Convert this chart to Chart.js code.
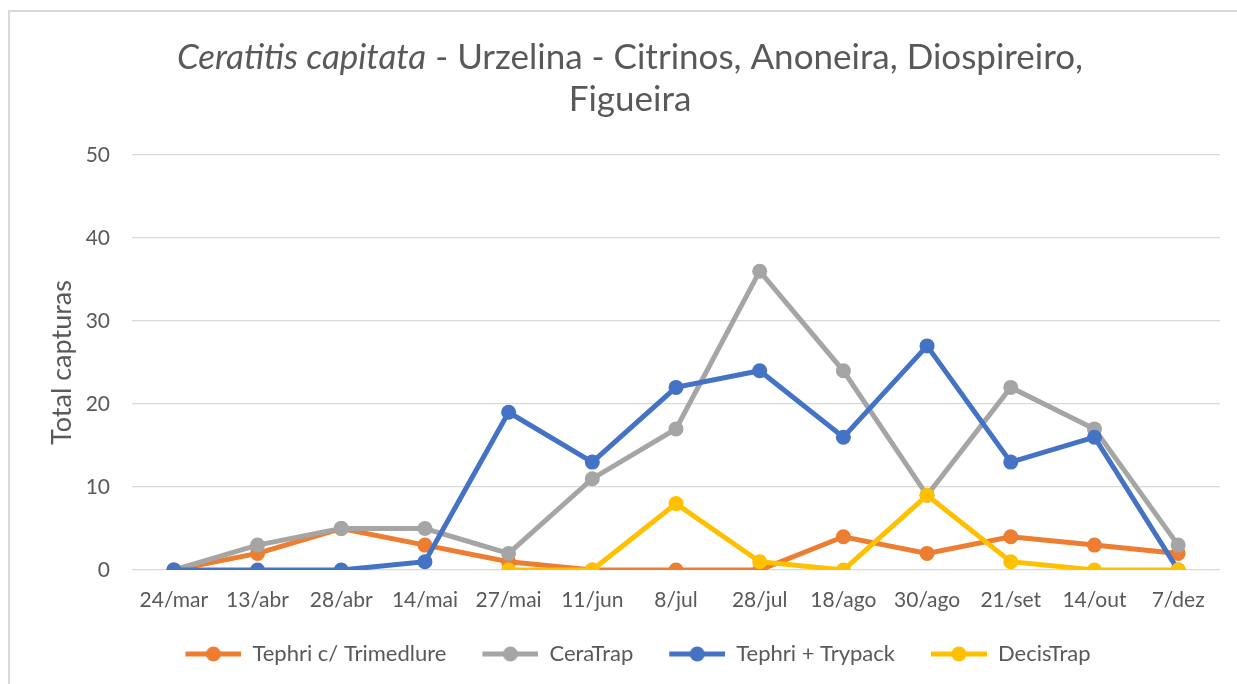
<!DOCTYPE html>
<html>
<head>
<meta charset="utf-8">
<script src="https://cdn.jsdelivr.net/npm/chart.js@4.4.0/dist/chart.umd.min.js"></script>
<style>
  html, body { margin: 0; padding: 0; background: #fff; }
  #frame {
    position: absolute; left: 8px; top: 10px;
    width: 1300px; height: 700px;
    border-left: 2px solid #d9d9d9; border-top: 2px solid #d9d9d9;
  }
  #wrap { position: absolute; left: 0; top: 0; width: 1237px; height: 684px; }
</style>
</head>
<body>
<div id="frame"></div>
<div id="wrap"><canvas id="chart" width="1237" height="684"></canvas></div>
<script>
// Data
const categories = ['24/mar', '13/abr', '28/abr', '14/mai', '27/mai', '11/jun', '8/jul',
  '28/jul', '18/ago', '30/ago', '21/set', '14/out', '7/dez'];
const trimedlure = [0, 2, 5, 3, 1, 0, 0, 0, 4, 2, 4, 3, 2];
const ceraTrap = [0, 3, 5, 5, 2, 11, 17, 36, 24, 9, 22, 17, 3];
const trypack = [0, 0, 0, 1, 19, 13, 22, 24, 16, 27, 13, 16, 0];
const decisTrap = [null, null, null, null, 0, 0, 8, 1, 0, 9, 1, 0, 0];
const yTicks = [0, 10, 20, 30, 40, 50];

const FONT = "Lato, 'Open Sans', sans-serif";
const TEXT = '#595959';

// Legend marker: line with a dot in the middle
function legendMarker(color) {
    const c = document.createElement('canvas');
    c.width = 84; c.height = 18;
    const g = c.getContext('2d');
    g.strokeStyle = color;
    g.lineWidth = 5;
    g.beginPath();
    g.moveTo(28, 9);
    g.lineTo(84, 9);
    g.stroke();
    g.fillStyle = color;
    g.beginPath();
    g.arc(56, 9, 7.5, 0, Math.PI * 2);
    g.fill();
    return c;
}

function series(label, data, color, order) {
    return {
        label: label,
        data: data,
        borderColor: color,
        backgroundColor: color,
        pointBackgroundColor: color,
        pointBorderColor: color,
        borderWidth: 5,
        pointRadius: 7.5,
        pointHoverRadius: 7.5,
        pointBorderWidth: 0,
        tension: 0,
        order: order,
        marker: legendMarker(color)
    };
}

// Title with italic species name
const titlePlugin = {
    id: 'mixedTitle',
    afterDraw(chart) {
        const ctx = chart.ctx;
        const size = 35;
        const italic = 'Ceratitis capitata';
        const rest = ' - Urzelina - Citrinos, Anoneira, Diospireiro,';
        ctx.save();
        ctx.fillStyle = TEXT;
        ctx.textBaseline = 'middle';
        ctx.font = `italic ${size}px ${FONT}`;
        const w1 = ctx.measureText(italic).width;
        ctx.font = `${size}px ${FONT}`;
        const w2 = ctx.measureText(rest).width;
        const cx = 630;
        let x = cx - (w1 + w2) / 2;
        ctx.textAlign = 'left';
        ctx.font = `italic ${size}px ${FONT}`;
        ctx.fillText(italic, x, 58);
        ctx.font = `${size}px ${FONT}`;
        ctx.fillText(rest, x + w1, 58);
        ctx.textAlign = 'center';
        ctx.fillText('Figueira', cx, 100);
        ctx.restore();
    }
};

const ctx = document.getElementById('chart').getContext('2d');
const chart = new Chart(ctx, {
    type: 'line',
    data: {
        labels: categories,
        datasets: [
            series('Tephri c/ Trimedlure', trimedlure, '#ED7D31', 4),
            series('CeraTrap', ceraTrap, '#A5A5A5', 3),
            series('Tephri + Trypack', trypack, '#4472C4', 2),
            series('DecisTrap', decisTrap, '#FFC000', 1)
        ]
    },
    options: {
        responsive: false,
        animation: false,
        layout: {
            padding: { top: 155, left: 28, right: 17, bottom: 9 }
        },
        plugins: {
            title: { display: false },
            tooltip: { enabled: false },
            legend: {
                position: 'bottom',
                labels: {
                    usePointStyle: true,
                    pointStyleWidth: 84,
                    padding: 8,
                    color: TEXT,
                    font: { family: FONT, size: 22 },
                    sort: (a, b) => a.datasetIndex - b.datasetIndex,
                    generateLabels(chart) {
                        const items = Chart.defaults.plugins.legend.labels.generateLabels(chart);
                        items.forEach(it => {
                            it.pointStyle = chart.data.datasets[it.datasetIndex].marker;
                        });
                        return items;
                    }
                }
            }
        },
        scales: {
            x: {
                offset: true,
                grid: { display: false },
                border: { display: false },
                ticks: {
                    color: TEXT,
                    font: { family: FONT, size: 21 },
                    padding: 10,
                    maxRotation: 0,
                    autoSkip: false
                },
                afterFit(scale) { scale.height = 65; }
            },
            y: {
                min: 0,
                max: 50,
                afterBuildTicks(scale) {
                    scale.ticks = yTicks.map(v => ({ value: v }));
                },
                grid: { color: '#d9d9d9', lineWidth: 1.3, drawTicks: false },
                border: { display: false },
                ticks: {
                    color: TEXT,
                    font: { family: FONT, size: 21 },
                    padding: 22
                },
                title: {
                    display: true,
                    text: 'Total capturas',
                    color: TEXT,
                    font: { family: FONT, size: 27 },
                    padding: { top: 18, bottom: 0 }
                },
                afterFit(scale) { scale.width = 104; }
            }
        }
    },
    plugins: [titlePlugin]
});
</script>
</body>
</html>
